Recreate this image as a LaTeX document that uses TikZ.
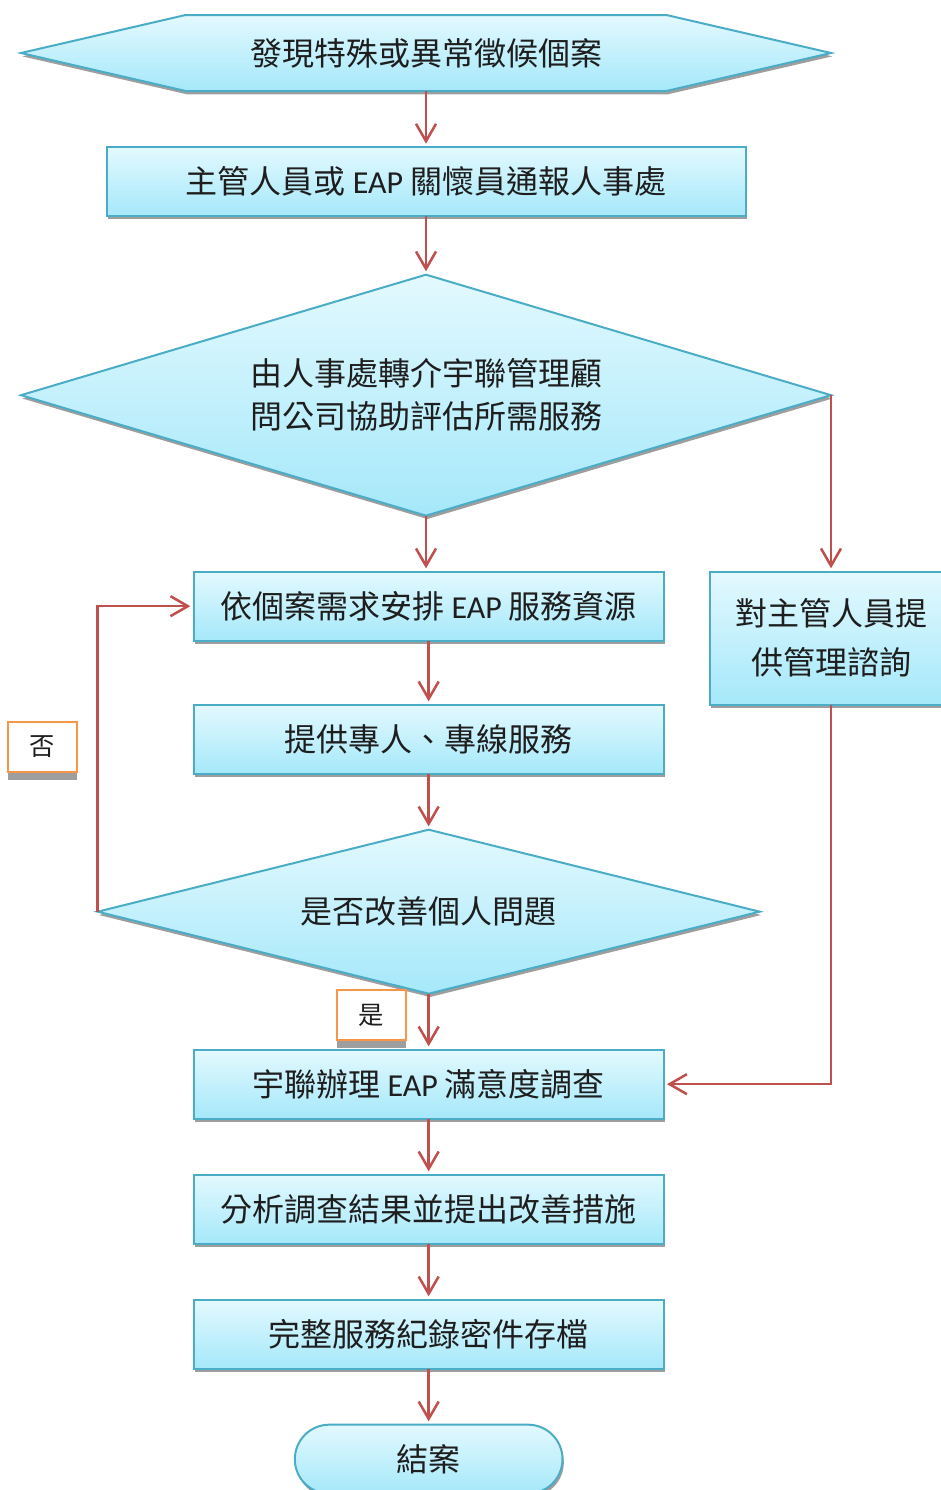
\documentclass[tikz,border=0pt]{standalone}
\usepackage{fontspec}
\setmainfont{Carlito}
\newfontfamily\cjk{Noto Sans CJK TC}
\newfontfamily\eapfont{Carlito}
\newcommand{\eap}{{\eapfont EAP}}
\usetikzlibrary{
  arrows.meta,
  shapes.geometric,
  shapes.symbols,
  shapes.misc,
  shadows,
  positioning}
\definecolor{boxline}{HTML}{4BACC6}
\definecolor{boxtop}{HTML}{E3F9FE}
\definecolor{boxbottom}{HTML}{A5E8FA}
\definecolor{arrowred}{HTML}{C0504D}
\definecolor{tagline}{HTML}{F79646}
\definecolor{shadowgray}{HTML}{9E9E9E}
\definecolor{textdark}{HTML}{1E1E1E}
\tikzset{
  flowbox/.style={%
    rectangle,
    draw=boxline, line width=1.5pt,
    top color=boxtop, bottom color=boxbottom,
    % Office-like shadow, a little to the right and below.
    general shadow={fill=shadowgray, shadow xshift=1pt, shadow yshift=-2.5pt},
    minimum width=352.5pt,
    minimum height=51.75pt,
    inner sep=2pt, outer sep=0pt,
    align=center,
    text=textdark,
    font=\cjk\fontsize{24}{30}\selectfont
  },
  decision/.style={%
    flowbox, diamond, inner sep=0pt
  },
  banner/.style={%
    flowbox, signal, signal to=west and east, signal pointer angle=26
  },
  terminal/.style={%
    flowbox, rounded rectangle
  },
  tag/.style={%
    rectangle,
    draw=tagline, line width=1.5pt, fill=white,
    general shadow={fill=shadowgray, shadow yshift=-6pt},
    minimum width=51.75pt,
    minimum height=37.5pt,
    text=textdark,
    font=\cjk\fontsize{19}{22}\selectfont
  },
  arrowR/.style={%
    -{Straight Barb[length=13pt,width=15pt]},
    draw=arrowred, line width=1.9pt, shorten >=2.5pt
  }%
}
\begin{document}
\begin{tikzpicture}[x=0.75pt, y=-0.75pt, node distance=42pt]

% Page frame in pixels of the original picture.
\useasboundingbox (0,0) rectangle (941,1490);

% Main column, top to bottom.
\node[banner, minimum width=607.5pt, minimum height=57pt] (Detect) at (426,53) {發現特殊或異常徵候個案};
\node[flowbox, below=of Detect, minimum width=479.25pt] (Report) {主管人員或 \eap{} 關懷員通報人事處};
\node[decision, below=44pt of Report, aspect=3.36, minimum width=607.5pt, minimum height=180.75pt,
  font=\cjk\fontsize{24}{32.25}\selectfont] (Assess) {由人事處轉介宇聯管理顧\\問公司協助評估所需服務};
\node[flowbox, below=of Assess, xshift=2pt] (Arrange) {依個案需求安排 \eap{} 服務資源};
\node[flowbox, below=48pt of Arrange] (Provide) {提供專人、專線服務};
\node[decision, below=of Provide, aspect=4.04, minimum width=496.5pt, minimum height=123pt] (Improve) {是否改善個人問題};
\node[flowbox, below=of Improve] (Survey) {宇聯辦理 \eap{} 滿意度調查};
\node[flowbox, below=of Survey] (Analyze) {分析調查結果並提出改善措施};
\node[flowbox, below=of Analyze] (Archive) {完整服務紀錄密件存檔};
\node[terminal, below=of Archive, minimum width=204.75pt] (Close) {結案};

% Side branch for the supervisors.
\node[flowbox, anchor=north, minimum width=181.5pt, minimum height=99.75pt,
  font=\cjk\fontsize{24}{36.75}\selectfont] (Advise) at (Assess.east |- Arrange.north) {對主管人員提\\供管理諮詢};

% Yes / no tags of the decision.
\node[tag] (No) at (42.5,747) {否};
\node[tag] (Yes) at (371,1015) {是};

\draw[arrowR] (Detect.south) -- (Report.north);
\draw[arrowR] (Report.south) -- (Assess.north);
\draw[arrowR] (Assess.south) -- (Assess.south |- Arrange.north);
\draw[arrowR] (Arrange.south) -- (Provide.north);
\draw[arrowR] (Provide.south) -- (Improve.north);
\draw[arrowR] (Improve.south) -- (Survey.north);
\draw[arrowR] (Survey.south) -- (Analyze.north);
\draw[arrowR] (Analyze.south) -- (Archive.north);
\draw[arrowR] (Archive.south) -- (Close.north);
\draw[arrowR] (Assess.east) -- (Advise.north);
\draw[arrowR] (Improve.west) |- (Arrange.west);
\draw[arrowR] (Advise.south) |- (Survey.east);

\end{tikzpicture}
\end{document}
